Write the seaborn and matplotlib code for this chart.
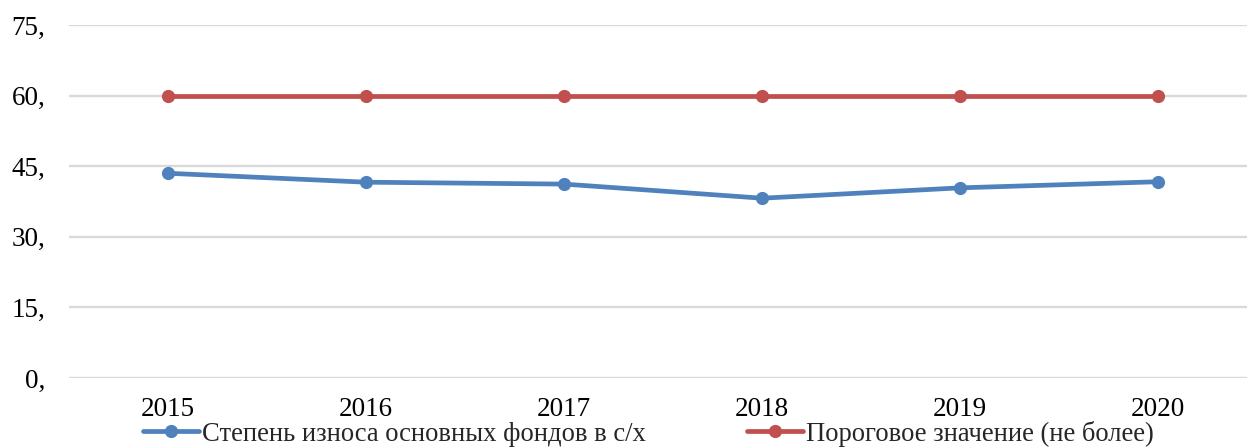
import matplotlib
matplotlib.use("Agg")
import matplotlib.pyplot as plt
from matplotlib.lines import Line2D
import seaborn as sns
import pandas as pd

years = ["2015", "2016", "2017", "2018", "2019", "2020"]
wear = [43.5, 41.6, 41.2, 38.2, 40.4, 41.7]
threshold = [60, 60, 60, 60, 60, 60]
series_names = ["Степень износа основных фондов в с/х", "Пороговое значение (не более)"]
y_ticks = [0, 15, 30, 45, 60, 75]
y_tick_labels = ["0,", "15,", "30,", "45,", "60,", "75,"]

colors = ["#4F81BD", "#C0504D"]

df = pd.DataFrame({
    "year": years * 2,
    "value": wear + threshold,
    "series": [series_names[0]] * len(years) + [series_names[1]] * len(years),
})

sns.set_theme(style="white")
plt.rcParams["font.family"] = ["Liberation Serif", "DejaVu Serif"]

fig = plt.figure(figsize=(12.47, 4.48), dpi=100)
ax = fig.add_axes([69 / 1247, 1 - 378 / 448, (1247 - 69) / 1247, (378 - 25) / 448])

LW = 3.4
MS = 9.5

sns.lineplot(data=df, x="year", y="value", hue="series", palette=colors,
             marker="o", markersize=MS, markeredgewidth=0, linewidth=LW,
             ax=ax, legend=False, zorder=3)

ax.set_xlim(-0.5, 5.5 - 10 / 198)
ax.set_ylim(0, 75)
ax.set_yticks(y_ticks)
ax.set_yticklabels(y_tick_labels)
ax.yaxis.grid(True, color="#D9D9D9", linewidth=1.7)
ax.xaxis.grid(False)
for s in ax.spines.values():
    s.set_visible(False)
ax.tick_params(axis="both", length=0, labelsize=19.5, colors="black")
ax.tick_params(axis="y", pad=17)
ax.tick_params(axis="x", pad=14)
ax.set_xlabel("")
ax.set_ylabel("")

handles = [Line2D([0], [0], color=c, linewidth=LW, marker="o", markersize=MS,
                  markeredgewidth=0) for c in colors]
fig.legend(handles, series_names, loc="center", bbox_to_anchor=(0.52, 0.032),
           ncol=2, frameon=False, fontsize=19.2, handlelength=2.1,
           handletextpad=0.1, columnspacing=3.8, borderaxespad=0, borderpad=0)

fig.savefig("out.png", dpi=100)
